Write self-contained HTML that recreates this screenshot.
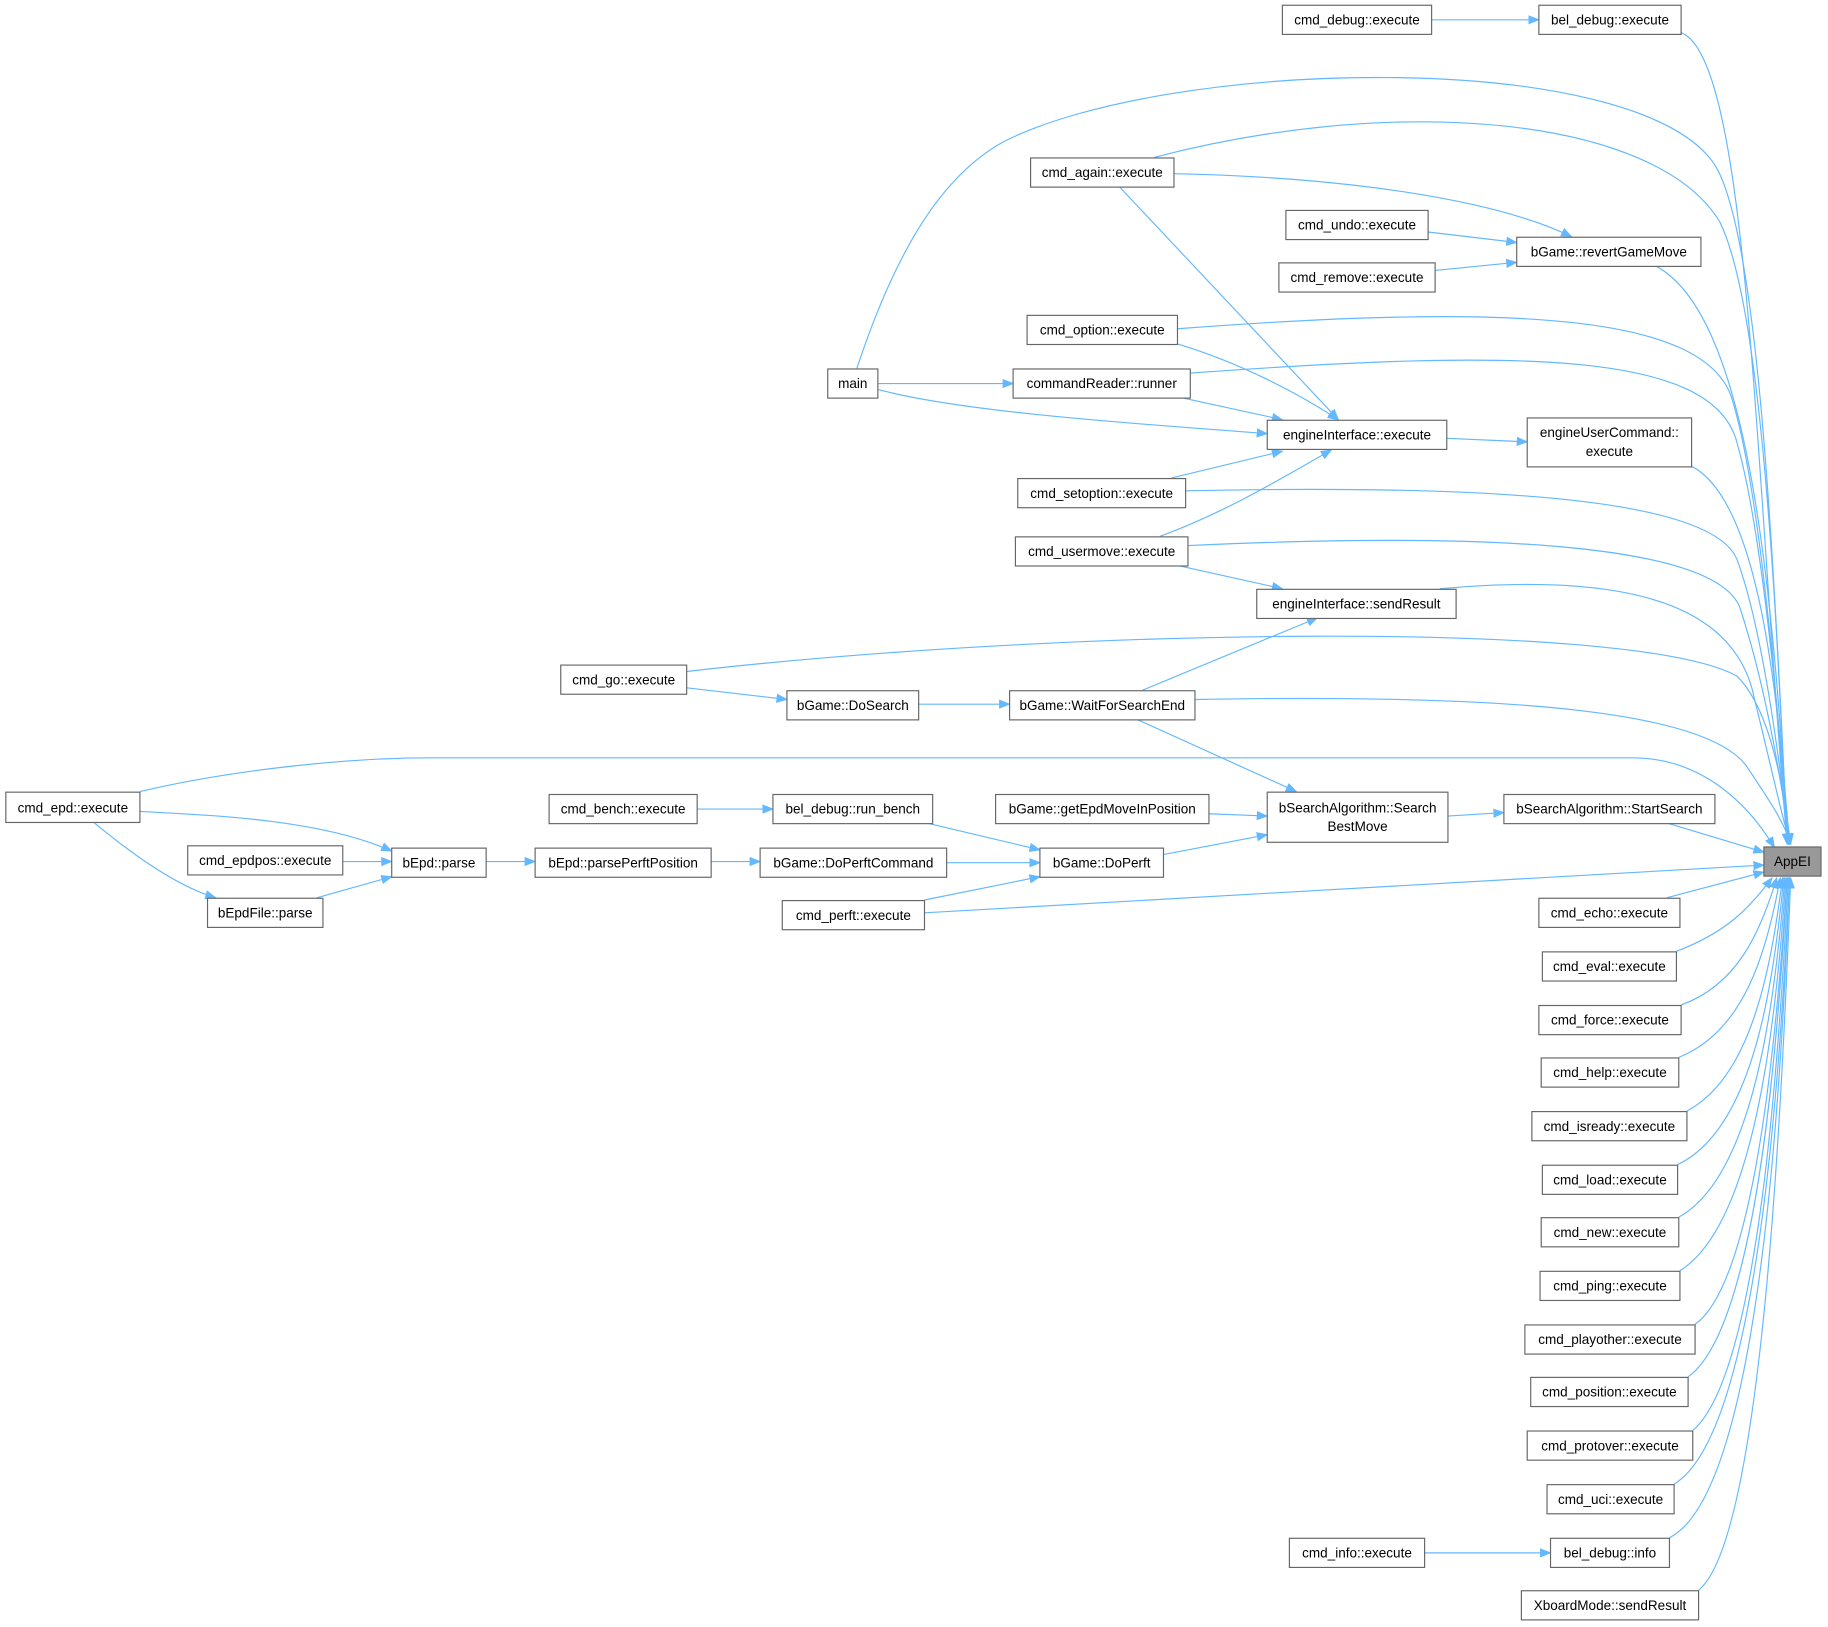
<!DOCTYPE html>
<html><head><meta charset="utf-8"><style>
html,body{margin:0;padding:0;background:#fff;}
svg{display:block}
text{font-family:"Liberation Sans","DejaVu Sans",sans-serif;font-size:11.6px;fill:#000;text-anchor:middle}
.n{fill:#fff;stroke:#666;stroke-width:1}
.e{fill:none;stroke:#63b8ff;stroke-width:1}
</style></head><body>
<svg width="1828" height="1627" viewBox="0 0 1568 1395.6" xmlns="http://www.w3.org/2000/svg">
<defs><marker id="a" markerWidth="10" markerHeight="8" refX="9" refY="4" orient="auto" markerUnits="userSpaceOnUse"><path d="M0,0 L10,4 L0,8 z" fill="#63b8ff"/></marker></defs>
<g class="e" marker-end="url(#a)">
<path d="M1228,17 L1320,17"/>
<path d="M1442,28 C1500,50 1505,400 1533,724"/>
<path d="M735,316 C770,210 810,150 860,122 C1000,50 1400,40 1470,140 C1510,200 1522,500 1533,724"/>
<path d="M990,135 C1200,80 1420,100 1475,190 C1510,260 1523,500 1533,724"/>
<path d="M1007,149 C1150,152 1280,170 1348,203"/>
<path d="M1225,199 L1301,208"/>
<path d="M1231,232 L1301,225"/>
<path d="M1420,228 C1500,270 1520,500 1534,724"/>
<path d="M1010,282 C1300,260 1460,270 1485,340 C1510,420 1524,600 1534,724"/>
<path d="M1010,295 C1060,310 1110,335 1148,360"/>
<path d="M960,160 L1148,360"/>
<path d="M753,329 L869,329"/>
<path d="M753,334 C830,355 1000,365 1087,372"/>
<path d="M1013,341 L1100,360"/>
<path d="M1021,320 C1300,300 1470,300 1490,380 C1510,450 1525,600 1534,724"/>
<path d="M1241,376 L1310,379"/>
<path d="M1451,400 C1510,430 1525,600 1535,724"/>
<path d="M1005,410 L1100,387"/>
<path d="M1017,421 C1300,415 1470,430 1490,480 C1512,540 1526,650 1535,724"/>
<path d="M995,460 C1050,440 1100,410 1142,386"/>
<path d="M1019,468 C1300,455 1470,470 1492,520 C1512,580 1527,660 1535,724"/>
<path d="M1010,485 L1100,505"/>
<path d="M1235,505 C1400,490 1490,520 1505,600 C1520,660 1528,700 1536,724"/>
<path d="M589,576 C900,540 1400,530 1490,580 C1520,610 1530,680 1536,724"/>
<path d="M589,590 L675,600"/>
<path d="M788,604 L866,604"/>
<path d="M980,592 L1130,530"/>
<path d="M1025,600 C1300,595 1470,610 1500,660 C1520,690 1530,705 1536,724"/>
<path d="M975,617 L1112,679"/>
<path d="M120,679 C200,660 300,650 370,650 L1400,650 C1460,650 1500,690 1522,727"/>
<path d="M120,696 C200,700 280,705 336,730"/>
<path d="M80,705 C110,730 150,760 185,770"/>
<path d="M598,694 L663,694"/>
<path d="M795,706 L892,729"/>
<path d="M1037,698 L1087,700"/>
<path d="M1242,700 L1290,697"/>
<path d="M1430,706 L1513,731"/>
<path d="M294,739 L336,739"/>
<path d="M272,770 L336,752"/>
<path d="M417,739 L459,739"/>
<path d="M610,739 L652,739"/>
<path d="M812,740 L892,740"/>
<path d="M998,733 L1087,716"/>
<path d="M793,772 L892,752"/>
<path d="M793,783 L1513,742"/>
<path d="M1430,770 L1513,748"/>
<path d="M1438,816 C1480,800 1500,780 1520,753"/>
<path d="M1442,862 C1490,845 1510,800 1524,753"/>
<path d="M1440,907 C1495,885 1515,820 1527,753"/>
<path d="M1447,953 C1500,925 1518,840 1529,753"/>
<path d="M1439,999 C1500,970 1520,860 1530,753"/>
<path d="M1440,1044 C1502,1010 1522,870 1531,753"/>
<path d="M1441,1090 C1505,1050 1523,880 1532,753"/>
<path d="M1454,1136 C1505,1100 1524,890 1533,753"/>
<path d="M1448,1181 C1506,1140 1525,900 1533,753"/>
<path d="M1452,1227 C1508,1180 1526,910 1534,753"/>
<path d="M1436,1273 C1508,1230 1527,920 1535,753"/>
<path d="M1432,1319 C1510,1280 1528,930 1535,753"/>
<path d="M1457,1364 C1512,1320 1529,940 1536,753"/>
<path d="M1222,1332 L1330,1332"/>
</g>
<g>
<rect class="n" x="1100" y="4.5" width="128" height="25"/><text x="1164" y="21">cmd_debug::execute</text>
<rect class="n" x="1320" y="4.5" width="122" height="25"/><text x="1381" y="21">bel_debug::execute</text>
<rect class="n" x="884" y="135.5" width="123" height="25"/><text x="945.5" y="152">cmd_again::execute</text>
<rect class="n" x="1103" y="180.5" width="122" height="25"/><text x="1164" y="197">cmd_undo::execute</text>
<rect class="n" x="1301" y="203.5" width="158" height="25"/><text x="1380" y="220">bGame::revertGameMove</text>
<rect class="n" x="1097" y="225.5" width="134" height="25"/><text x="1164" y="242">cmd_remove::execute</text>
<rect class="n" x="881" y="270.5" width="129" height="25"/><text x="945.5" y="287">cmd_option::execute</text>
<rect class="n" x="710" y="316.5" width="43" height="25"/><text x="731.5" y="333">main</text>
<rect class="n" x="869" y="316.5" width="152" height="25"/><text x="945" y="333">commandReader::runner</text>
<rect class="n" x="1087" y="360.5" width="154" height="25"/><text x="1164" y="377">engineInterface::execute</text>
<rect class="n" x="1310" y="358.5" width="141" height="42"/><text x="1380.5" y="375">engineUserCommand::</text><text x="1380.5" y="391">execute</text>
<rect class="n" x="873" y="410.5" width="144" height="25"/><text x="945" y="427">cmd_setoption::execute</text>
<rect class="n" x="871" y="460.5" width="148" height="25"/><text x="945" y="477">cmd_usermove::execute</text>
<rect class="n" x="1078" y="505.5" width="171" height="25"/><text x="1163.5" y="522">engineInterface::sendResult</text>
<rect class="n" x="481" y="570.5" width="108" height="25"/><text x="535" y="587">cmd_go::execute</text>
<rect class="n" x="675" y="592.5" width="113" height="25"/><text x="731.5" y="609">bGame::DoSearch</text>
<rect class="n" x="866" y="592.5" width="159" height="25"/><text x="945.5" y="609">bGame::WaitForSearchEnd</text>
<rect class="n" x="5" y="679.5" width="115" height="26"/><text x="62.5" y="697">cmd_epd::execute</text>
<rect class="n" x="471" y="681.5" width="127" height="25"/><text x="534.5" y="698">cmd_bench::execute</text>
<rect class="n" x="663" y="681.5" width="137" height="25"/><text x="731.5" y="698">bel_debug::run_bench</text>
<rect class="n" x="854" y="681.5" width="183" height="25"/><text x="945.5" y="698">bGame::getEpdMoveInPosition</text>
<rect class="n" x="1087" y="679.5" width="155" height="43"/><text x="1164.5" y="697">bSearchAlgorithm::Search</text><text x="1164.5" y="713">BestMove</text>
<rect class="n" x="1290" y="681.5" width="181" height="25"/><text x="1380.5" y="698">bSearchAlgorithm::StartSearch</text>
<rect x="1513" y="726.5" width="49" height="25" fill="#999" stroke="#666"/><text x="1537.5" y="743">AppEI</text>
<rect class="n" x="161" y="725.5" width="133" height="25"/><text x="227.5" y="742">cmd_epdpos::execute</text>
<rect class="n" x="336" y="727.5" width="81" height="25"/><text x="376.5" y="744">bEpd::parse</text>
<rect class="n" x="459" y="727.5" width="151" height="25"/><text x="534.5" y="744">bEpd::parsePerftPosition</text>
<rect class="n" x="652" y="727.5" width="160" height="25"/><text x="732" y="744">bGame::DoPerftCommand</text>
<rect class="n" x="892" y="727.5" width="106" height="25"/><text x="945" y="744">bGame::DoPerft</text>
<rect class="n" x="178" y="770.5" width="99" height="25"/><text x="227.5" y="787">bEpdFile::parse</text>
<rect class="n" x="671" y="772.5" width="122" height="25"/><text x="732" y="789">cmd_perft::execute</text>
<rect class="n" x="1320" y="770.5" width="121" height="25"/><text x="1380.5" y="787">cmd_echo::execute</text>
<rect class="n" x="1323" y="816.5" width="115" height="25"/><text x="1380.5" y="833">cmd_eval::execute</text>
<rect class="n" x="1320" y="862.5" width="122" height="25"/><text x="1381" y="879">cmd_force::execute</text>
<rect class="n" x="1322" y="907.5" width="118" height="25"/><text x="1381" y="924">cmd_help::execute</text>
<rect class="n" x="1314" y="953.5" width="133" height="25"/><text x="1380.5" y="970">cmd_isready::execute</text>
<rect class="n" x="1323" y="999.5" width="116" height="25"/><text x="1381" y="1016">cmd_load::execute</text>
<rect class="n" x="1322" y="1044.5" width="118" height="25"/><text x="1381" y="1061">cmd_new::execute</text>
<rect class="n" x="1321" y="1090.5" width="120" height="25"/><text x="1381" y="1107">cmd_ping::execute</text>
<rect class="n" x="1308" y="1136.5" width="146" height="25"/><text x="1381" y="1153">cmd_playother::execute</text>
<rect class="n" x="1313" y="1181.5" width="135" height="25"/><text x="1380.5" y="1198">cmd_position::execute</text>
<rect class="n" x="1310" y="1227.5" width="142" height="25"/><text x="1381" y="1244">cmd_protover::execute</text>
<rect class="n" x="1327" y="1273.5" width="109" height="25"/><text x="1381.5" y="1290">cmd_uci::execute</text>
<rect class="n" x="1106" y="1319.5" width="116" height="25"/><text x="1164" y="1336">cmd_info::execute</text>
<rect class="n" x="1330" y="1319.5" width="102" height="25"/><text x="1381" y="1336">bel_debug::info</text>
<rect class="n" x="1305" y="1364.5" width="152" height="25"/><text x="1381" y="1381">XboardMode::sendResult</text>
</g>
</svg>
</body></html>
